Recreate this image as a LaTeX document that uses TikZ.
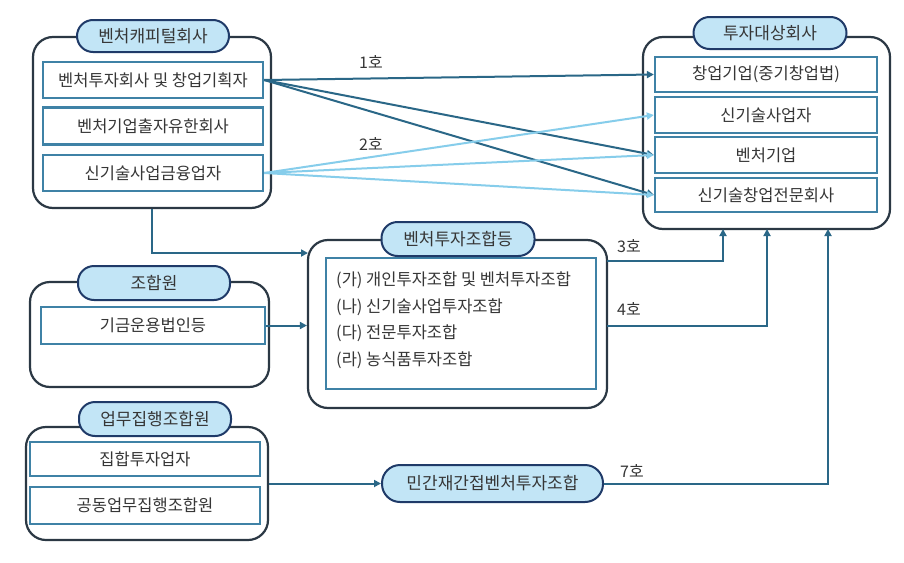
\documentclass[tikz,border=0pt]{standalone}
\usepackage{fontspec}
\setmainfont{Noto Sans CJK KR}
\usetikzlibrary{arrows.meta,calc}
\definecolor{darkln}{HTML}{2A6787}
\definecolor{lightln}{HTML}{86CDEB}
\definecolor{outerc}{HTML}{2B3844}
\definecolor{pillfill}{HTML}{C2E5F6}
\definecolor{pillline}{HTML}{1F3A68}
\definecolor{innerc}{HTML}{3F82A6}
\definecolor{txt}{HTML}{363636}
\tikzset{
  outerbox/.style={draw=outerc,line width=2.2pt,rounded corners=20pt,inner sep=0pt,fill=white},
  pill/.style={draw=pillline,line width=2pt,fill=pillfill,rounded corners=16pt,inner sep=0pt,text=txt,font=\fontsize{17}{19}\selectfont},
  innerbox/.style={draw=innerc,line width=2.3pt,inner sep=0pt,fill=white,text=txt,font=\fontsize{16.5}{19}\selectfont},
  darkarrow/.style={draw=darkln,line width=2pt,-{Triangle[length=7pt,width=7pt]}},
  lightarrow/.style={draw=lightln,line width=2pt,-{Triangle[length=7pt,width=7pt]}},
  numlabel/.style={text=txt,font=\fontsize{16}{18}\selectfont,inner sep=0pt},
  listtext/.style={text=txt,font=\fontsize{16.5}{19}\selectfont,inner sep=0pt,anchor=west}
}
\begin{document}
\begin{tikzpicture}[x=1pt,y=-1pt]
\useasboundingbox[fill=white] (0,0) rectangle (904,562);

% Group 1
\node[outerbox,minimum width=238pt,minimum height=171pt] (g1) at (152,122.5) {};
\node[pill,minimum width=152pt,minimum height=32pt] (p1) at (153,36) {벤처캐피털회사};
\node[innerbox,minimum width=220pt,minimum height=36pt] (b11) at (153,80) {벤처투자회사 및 창업기획자};
\node[innerbox,minimum width=220pt,minimum height=37pt] (b12) at (153,126) {벤처기업출자유한회사};
\node[innerbox,minimum width=220pt,minimum height=36pt] (b13) at (153,173) {신기술사업금융업자};

% Group 2
\node[outerbox,minimum width=247pt,minimum height=192pt] (g2) at (766.5,133) {};
\node[pill,minimum width=153pt,minimum height=32pt] (p2) at (770,33) {투자대상회사};
\node[innerbox,minimum width=222pt,minimum height=35pt] (b21) at (766,74.5) {창업기업(중기창업법)};
\node[innerbox,minimum width=222pt,minimum height=36pt] (b22) at (766,115) {신기술사업자};
\node[innerbox,minimum width=222pt,minimum height=36pt] (b23) at (766,155) {벤처기업};
\node[innerbox,minimum width=222pt,minimum height=34pt] (b24) at (766,195) {신기술창업전문회사};

% Group 3
\node[outerbox,minimum width=299pt,minimum height=168pt] (g3) at (457.5,324) {};
\node[innerbox,minimum width=270pt,minimum height=131pt] (b31) at (461,323.5) {};
\node[pill,minimum width=153pt,minimum height=34pt] (p3) at (458,239) {벤처투자조합등};
\node[listtext] (l1) at (336,280) {(가) 개인투자조합 및 벤처투자조합};
\node[listtext] (l2) at (336,307) {(나) 신기술사업투자조합};
\node[listtext] (l3) at (336,333) {(다) 전문투자조합};
\node[listtext] (l4) at (336,360) {(라) 농식품투자조합};

% Group 4
\node[outerbox,minimum width=239pt,minimum height=105pt] (g4) at (149.5,334.5) {};
\node[pill,minimum width=152pt,minimum height=34pt] (p4) at (154,283) {조합원};
\node[innerbox,minimum width=224pt,minimum height=37pt] (b41) at (153,325.5) {기금운용법인등};

% Group 5
\node[outerbox,minimum width=242pt,minimum height=113pt] (g5) at (147,483.5) {};
\node[pill,minimum width=152pt,minimum height=34pt] (p5) at (155,419) {업무집행조합원};
\node[innerbox,minimum width=230pt,minimum height=34pt] (b51) at (145,459) {집합투자업자};
\node[innerbox,minimum width=230pt,minimum height=37pt] (b52) at (145,505.5) {공동업무집행조합원};

% Bottom pill
\node[pill,minimum width=221pt,minimum height=37pt,rounded corners=18pt] (p6) at (492.5,483.5) {민간재간접벤처투자조합};

% Coordinates
\coordinate (c1) at (308,253);
\coordinate (c3) at (607,261);
\coordinate (c4) at (607,326);
\coordinate (t3) at (723,229);
\coordinate (t4) at (767,229);
\coordinate (t7) at (828,229);

% Connectors
\draw[darkarrow] (b11.east) -- (b21.west);
\draw[darkarrow] (b11.east) -- (b23.west);
\draw[darkarrow] (b11.east) -- (b24.west);
\draw[lightarrow] (b13.east) -- (b22.west);
\draw[lightarrow] (b13.east) -- (b23.west);
\draw[lightarrow] (b13.east) -- (b24.west);
\draw[darkarrow] (g1.south) |- (c1);
\draw[darkarrow] (b41.east) -- (b41.east -| g3.west);
\draw[darkarrow] (c3) -| (t3);
\draw[darkarrow] (c4) -| (t4);
\draw[darkarrow] (g5.east) -- (p6.west);
\draw[darkarrow] (p6.east) -| (t7);

% Labels
\node[numlabel] (n1) at (371,62) {1호};
\node[numlabel] (n2) at (371,144) {2호};
\node[numlabel] (n3) at (629,246) {3호};
\node[numlabel] (n4) at (629,309) {4호};
\node[numlabel] (n7) at (632,471) {7호};
\end{tikzpicture}
\end{document}
